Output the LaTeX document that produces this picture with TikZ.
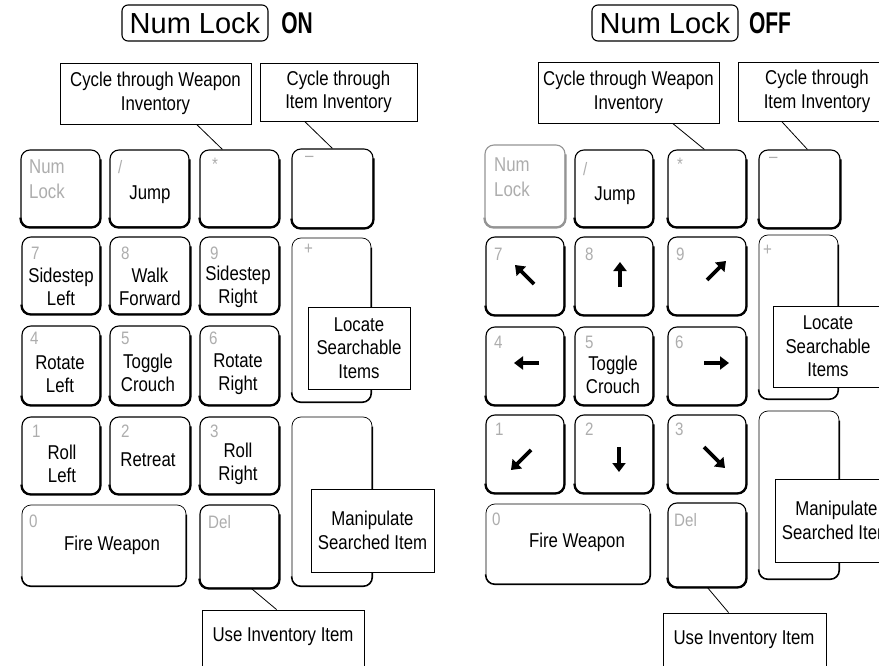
\documentclass[tikz,border=0pt]{standalone}
\usepackage{fontspec}
\setmainfont{Liberation Sans}
\newfontfamily\condf[FakeStretch=0.84]{Liberation Sans}
\newfontfamily\heavyf[FakeStretch=0.7]{Liberation Sans}
\usetikzlibrary{fit,arrows.meta}
\definecolor{lab}{gray}{0.68}
\definecolor{nlgray}{gray}{0.58}
\newcommand\keyshade[2][shadeline]{\draw[#1] ([yshift=-10pt]#2.north east) -- (#2.south east) -- (#2.south west) -- ([yshift=10pt]#2.south west);}
\begin{document}
\begin{tikzpicture}[x=1pt,y=-1pt,
 key/.style={draw, line width=1.1pt, rounded corners=9pt, inner sep=0pt, fill=white},
 thinkey/.style={draw, line width=0.7pt, rounded corners=9pt, inner sep=0pt, fill=white},
 shadeline/.style={line width=2.1pt, rounded corners=9pt},
 thinshade/.style={line width=1.4pt, rounded corners=9pt},
 callout/.style={draw, line width=0.8pt, inner sep=0pt, fill=white},
 ctext/.style={font=\condf\fontsize{20}{23.5}\selectfont, align=center, inner sep=0pt},
 dig/.style={font=\condf\fontsize{18}{25}\selectfont, text=lab, anchor=north west, inner sep=0pt, align=left},
 leader/.style={line width=0.8pt},
 arr/.style={line width=3.6pt, -{Triangle[width=13pt,length=9pt]}},
 hbox/.style={draw, line width=1.1pt, rounded corners=6pt, inner sep=0pt},
 htext/.style={font=\fontsize{29}{30}\selectfont, inner sep=0pt},
 hstate/.style={font=\heavyf\bfseries\fontsize{30}{32}\selectfont, inner sep=0pt}
]
\useasboundingbox (0,0) rectangle (879,666);
\clip (0,0) rectangle (879,666);

% ================= LEFT: Num Lock ON =================
\node[hbox, fit={(122,5) (268,41)}] (hL) {};
\node[htext] at (hL.center) {Num Lock};
\node[hstate] (onL) at (297,23) {ON};

% keys
\node[key, fit={(21,150) (100,227)}] (kNLL) {};
\node[key, fit={(110,150) (189,227)}] (kslL) {};
\node[key, fit={(200,150) (279,227)}] (kstL) {};
\node[key, fit={(292,149) (373,228)}] (kmiL) {};
\node[key, fit={(22,237) (100,314)}] (k7L) {};
\node[key, fit={(110,237) (190,314)}] (k8L) {};
\node[key, fit={(200,237) (279,314)}] (k9L) {};
\node[thinkey, fit={(292,238) (371,402)}] (kplL) {};
\node[key, fit={(22,326) (100,405)}] (k4L) {};
\node[key, fit={(110,326) (190,405)}] (k5L) {};
\node[key, fit={(200,326) (279,405)}] (k6L) {};
\node[key, fit={(22,417) (100,494)}] (k1L) {};
\node[key, fit={(110,417) (190,494)}] (k2L) {};
\node[key, fit={(200,417) (279,494)}] (k3L) {};
\node[thinkey, fit={(292,417) (372,586)}] (kenL) {};
\node[thinkey, fit={(22,505) (186,586)}] (k0L) {};
\node[key, fit={(200,505) (279,588)}] (kdeL) {};
\keyshade{kNLL}\keyshade{kslL}\keyshade{kstL}\keyshade{kmiL}
\keyshade{k7L}\keyshade{k8L}\keyshade{k9L}
\keyshade{k4L}\keyshade{k5L}\keyshade{k6L}
\keyshade{k1L}\keyshade{k2L}\keyshade{k3L}
\keyshade{kdeL}
\keyshade[thinshade]{kplL}\keyshade[thinshade]{kenL}\keyshade[thinshade]{k0L}

% small key legends
\node[dig, font=\condf\fontsize{20}{25}\selectfont] (gNLL) at (29,160) {Num\\Lock};
\node[dig] (gslL) at (118,160) {/};
\node[dig] (gstL) at (212,158) {*};
\node[dig] (gmiL) at (305,156) {–};
\node[dig] (gplL) at (304,244) {+};
\node[dig] (g7L) at (31,247) {7};
\node[dig] (g8L) at (121,247) {8};
\node[dig] (g9L) at (210,247) {9};
\node[dig] (g4L) at (30,332) {4};
\node[dig] (g5L) at (121,332) {5};
\node[dig] (g6L) at (209,332) {6};
\node[dig] (g1L) at (32,425) {1};
\node[dig] (g2L) at (121,425) {2};
\node[dig] (g3L) at (210,425) {3};
\node[dig] (g0L) at (29,515) {0};
\node[dig] (gdeL) at (208,515) {Del};

% main legends
\node[ctext] (tjL) at (150,195) {Jump};
\node[ctext] (t7L) at (61,287) {Sidestep\\Left};
\node[ctext] (t8L) at (150,287) {Walk\\Forward};
\node[ctext] (t9L) at (238,287) {Sidestep\\Right};
\node[ctext] (t4L) at (60,374) {Rotate\\Left};
\node[ctext] (t5L) at (148,373) {Toggle\\Crouch};
\node[ctext] (t6L) at (238,374) {Rotate\\Right};
\node[ctext] (t1L) at (62,464) {Roll\\Left};
\node[ctext] (t2L) at (148,460) {Retreat};
\node[ctext] (t3L) at (238,464) {Roll\\Right};
\node[ctext] (t0L) at (112,545) {Fire Weapon};

% callouts
\node[callout, fit={(60,63) (251,124)}] (cwL) {};
\node[ctext] at (cwL.center) {Cycle through Weapon\\Inventory};
\node[callout, fit={(260,63) (417,121)}] (ciL) {};
\node[ctext] at (ciL.center) {Cycle through\\Item Inventory};
\node[callout, fit={(308,307) (410,389)}] (clL) {};
\node[ctext] at (clL.center) {Locate\\Searchable\\Items};
\node[callout, fit={(311,489) (434,572)}] (cmL) {};
\node[ctext] at (cmL.center) {Manipulate\\Searched Item};
\node[callout, fit={(202,610) (364,690)}] (cuL) {};
\node[ctext] at (283,637) {Use Inventory Item};

\draw[leader] ([xshift=137pt]cwL.south west) -- ([xshift=23pt]kstL.north west);
\draw[leader] ([xshift=45pt]ciL.south west) -- ([xshift=41pt]kmiL.north west);
\draw[leader] ([xshift=52pt]kdeL.south west) -- ([xshift=75pt]cuL.north west);

% ================= RIGHT: Num Lock OFF =================
\node[hbox, fit={(592,5) (738,41)}] (hR) {};
\node[htext] at (hR.center) {Num Lock};
\node[hstate] (offR) at (770,23) {OFF};

\node[key, draw=nlgray, fit={(485,145) (565,227)}] (kNLR) {};
\node[key, fit={(575,150) (653,227)}] (kslR) {};
\node[key, fit={(668,150) (746,227)}] (kstR) {};
\node[key, fit={(759,150) (840,228)}] (kmiR) {};
\node[key, fit={(486,237) (564,315)}] (k7R) {};
\node[key, fit={(575,237) (653,315)}] (k8R) {};
\node[key, fit={(668,237) (746,315)}] (k9R) {};
\node[thinkey, fit={(759,235) (838,399)}] (kplR) {};
\node[key, fit={(486,327) (564,405)}] (k4R) {};
\node[key, fit={(575,327) (653,405)}] (k5R) {};
\node[key, fit={(668,327) (746,405)}] (k6R) {};
\node[key, fit={(486,415) (564,493)}] (k1R) {};
\node[key, fit={(575,415) (653,493)}] (k2R) {};
\node[key, fit={(668,415) (746,493)}] (k3R) {};
\node[thinkey, fit={(759,411) (839,579)}] (kenR) {};
\node[thinkey, fit={(486,504) (650,584)}] (k0R) {};
\node[key, fit={(668,503) (746,587)}] (kdeR) {};
\keyshade[shadeline, nlgray]{kNLR}
\keyshade{kslR}\keyshade{kstR}\keyshade{kmiR}
\keyshade{k7R}\keyshade{k8R}\keyshade{k9R}
\keyshade{k4R}\keyshade{k5R}\keyshade{k6R}
\keyshade{k1R}\keyshade{k2R}\keyshade{k3R}
\keyshade{kdeR}
\keyshade[thinshade]{kplR}\keyshade[thinshade]{kenR}\keyshade[thinshade]{k0R}

\node[dig, font=\condf\fontsize{20}{25}\selectfont] (gNLR) at (494,158) {Num\\Lock};
\node[dig] (gslR) at (583,162) {/};
\node[dig] (gstR) at (677,158) {*};
\node[dig] (gmiR) at (769,157) {–};
\node[dig] (gplR) at (763,245) {+};
\node[dig] (g7R) at (494,248) {7};
\node[dig] (g8R) at (585,248) {8};
\node[dig] (g9R) at (676,248) {9};
\node[dig] (g4R) at (494,336) {4};
\node[dig] (g5R) at (585,336) {5};
\node[dig] (g6R) at (675,336) {6};
\node[dig] (g1R) at (495,423) {1};
\node[dig] (g2R) at (585,423) {2};
\node[dig] (g3R) at (675,423) {3};
\node[dig] (g0R) at (492,513) {0};
\node[dig] (gdeR) at (674,513) {Del};

\node[ctext] (tjR) at (615,196) {Jump};
\node[ctext] (t5R) at (613,375) {Toggle\\Crouch};
\node[ctext] (t0R) at (577,542) {Fire Weapon};

% arrows
\coordinate (a7s) at (534,284); \coordinate (a7e) at (515,265);
\coordinate (a8s) at (620,287); \coordinate (a8e) at (620,262);
\coordinate (a9s) at (707,280); \coordinate (a9e) at (726,261);
\coordinate (a4s) at (539,363); \coordinate (a4e) at (514,363);
\coordinate (a6s) at (704,363); \coordinate (a6e) at (729,363);
\coordinate (a1s) at (531,450); \coordinate (a1e) at (511,470);
\coordinate (a2s) at (619,447); \coordinate (a2e) at (619,472);
\coordinate (a3s) at (704,447); \coordinate (a3e) at (725,468);
\draw[arr] (a7s) -- (a7e);
\draw[arr] (a8s) -- (a8e);
\draw[arr] (a9s) -- (a9e);
\draw[arr] (a4s) -- (a4e);
\draw[arr] (a6s) -- (a6e);
\draw[arr] (a1s) -- (a1e);
\draw[arr] (a2s) -- (a2e);
\draw[arr] (a3s) -- (a3e);

\node[callout, fit={(538,62) (719,123)}] (cwR) {};
\node[ctext] at (cwR.center) {Cycle through Weapon\\Inventory};
\node[callout, fit={(738,62) (896,121)}] (ciR) {};
\node[ctext] at (ciR.center) {Cycle through\\Item Inventory};
\node[callout, fit={(773,306) (883,387)}] (clR) {};
\node[ctext] at (clR.center) {Locate\\Searchable\\Items};
\node[callout, fit={(775,479) (898,562)}] (cmR) {};
\node[ctext] at (cmR.center) {Manipulate\\Searched Item};
\node[callout, fit={(663,613) (826,690)}] (cuR) {};
\node[ctext] at (744,640) {Use Inventory Item};

\draw[leader] ([xshift=135pt]cwR.south west) -- ([xshift=37pt]kstR.north west);
\draw[leader] ([xshift=44pt]ciR.south west) -- ([xshift=49pt]kmiR.north west);
\draw[leader] ([xshift=40pt]kdeR.south west) -- ([xshift=66pt]cuR.north west);
\end{tikzpicture}
\end{document}
